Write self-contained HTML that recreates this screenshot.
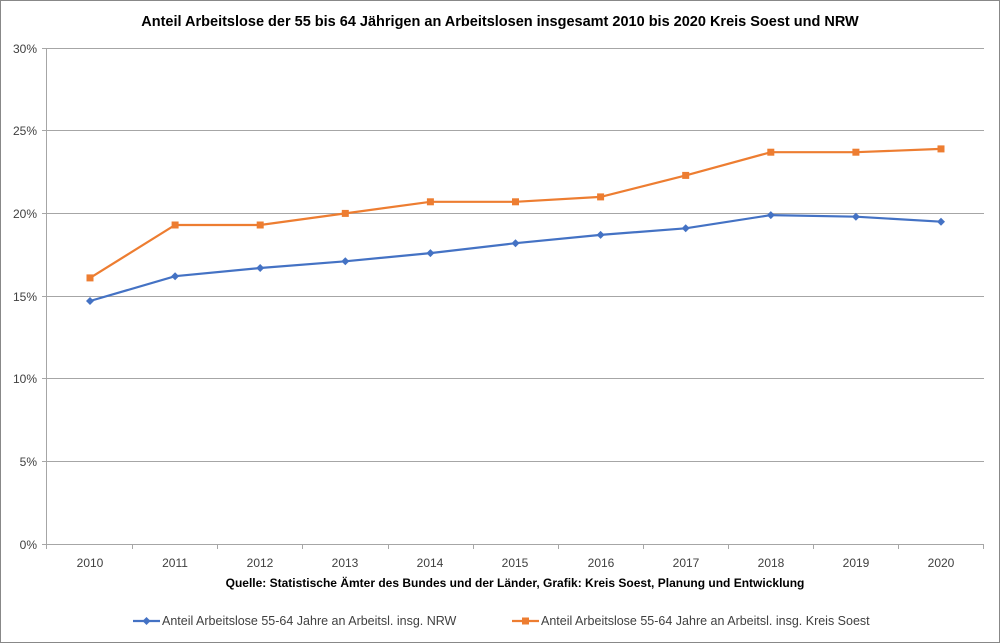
<!DOCTYPE html>
<html><head><meta charset="utf-8"><style>
html,body{margin:0;padding:0;background:#fff}
svg{display:block;font-family:"Liberation Sans",sans-serif}
</style></head><body>
<svg width="1000" height="643" viewBox="0 0 1000 643">
<rect x="0.5" y="0.5" width="999" height="642" fill="#fff" stroke="#888"/>
<text x="500" y="26" text-anchor="middle" font-size="14.5" font-weight="bold" fill="#000">Anteil Arbeitslose der 55 bis 64 Jährigen an Arbeitslosen insgesamt 2010 bis 2020 Kreis Soest und NRW</text>
<g stroke="#a6a6a6" stroke-width="1">
<line x1="47" y1="48.5" x2="984" y2="48.5"/>
<line x1="47" y1="130.5" x2="984" y2="130.5"/>
<line x1="47" y1="213.5" x2="984" y2="213.5"/>
<line x1="47" y1="296.5" x2="984" y2="296.5"/>
<line x1="47" y1="378.5" x2="984" y2="378.5"/>
<line x1="47" y1="461.5" x2="984" y2="461.5"/>
<line x1="46.5" y1="48" x2="46.5" y2="544"/>
<line x1="42" y1="544.5" x2="984" y2="544.5"/>
<line x1="42" y1="48.5" x2="47" y2="48.5"/><line x1="42" y1="130.5" x2="47" y2="130.5"/><line x1="42" y1="213.5" x2="47" y2="213.5"/><line x1="42" y1="296.5" x2="47" y2="296.5"/><line x1="42" y1="378.5" x2="47" y2="378.5"/><line x1="42" y1="461.5" x2="47" y2="461.5"/>
<path d="M132.5 544v5M217.5 544v5M302.5 544v5M388.5 544v5M473.5 544v5M558.5 544v5M643.5 544v5M728.5 544v5M813.5 544v5M898.5 544v5M983.5 544v5M46.5 544v5"/>
</g>
<g font-size="12" fill="#404040" text-anchor="end">
<text x="37" y="53">30%</text><text x="37" y="135">25%</text><text x="37" y="218">20%</text><text x="37" y="301">15%</text><text x="37" y="383">10%</text><text x="37" y="466">5%</text><text x="37" y="549">0%</text>
</g>
<g font-size="12" fill="#404040" text-anchor="middle">
<text x="90" y="567">2010</text><text x="175" y="567">2011</text><text x="260" y="567">2012</text><text x="345" y="567">2013</text><text x="430" y="567">2014</text><text x="515" y="567">2015</text><text x="601" y="567">2016</text><text x="686" y="567">2017</text><text x="771" y="567">2018</text><text x="856" y="567">2019</text><text x="941" y="567">2020</text>
</g>
<text x="515" y="587" text-anchor="middle" font-size="12" font-weight="bold" fill="#000">Quelle: Statistische Ämter des Bundes und der Länder, Grafik: Kreis Soest, Planung und Entwicklung</text>
<polyline fill="none" stroke="#ed7d31" stroke-width="2.2" points="90,277.9 175.1,225 260.2,225 345.3,213.4 430.4,201.8 515.5,201.8 600.6,196.9 685.7,175.4 770.8,152.2 855.9,152.2 941,148.9"/>
<g fill="#ed7d31">
<rect x="86.5" y="274.4" width="7" height="7"/><rect x="171.6" y="221.5" width="7" height="7"/><rect x="256.7" y="221.5" width="7" height="7"/><rect x="341.8" y="209.9" width="7" height="7"/><rect x="426.9" y="198.3" width="7" height="7"/><rect x="512" y="198.3" width="7" height="7"/><rect x="597.1" y="193.4" width="7" height="7"/><rect x="682.2" y="171.9" width="7" height="7"/><rect x="767.3" y="148.7" width="7" height="7"/><rect x="852.4" y="148.7" width="7" height="7"/><rect x="937.5" y="145.4" width="7" height="7"/>
</g>
<polyline fill="none" stroke="#4472c4" stroke-width="2.2" points="90,301 175.1,276.2 260.2,268 345.3,261.3 430.4,253.1 515.5,243.2 600.6,234.9 685.7,228.3 770.8,215.1 855.9,216.7 941,221.7"/>
<g fill="#4472c4">
<path d="M90 297l4 4-4 4-4-4z"/><path d="M175.1 272.2l4 4-4 4-4-4z"/><path d="M260.2 264l4 4-4 4-4-4z"/><path d="M345.3 257.3l4 4-4 4-4-4z"/><path d="M430.4 249.1l4 4-4 4-4-4z"/><path d="M515.5 239.2l4 4-4 4-4-4z"/><path d="M600.6 230.9l4 4-4 4-4-4z"/><path d="M685.7 224.3l4 4-4 4-4-4z"/><path d="M770.8 211.1l4 4-4 4-4-4z"/><path d="M855.9 212.7l4 4-4 4-4-4z"/><path d="M941 217.7l4 4-4 4-4-4z"/>
</g>
<line x1="133" y1="621" x2="160" y2="621" stroke="#4472c4" stroke-width="2.2"/>
<path d="M146.5 617l4 4-4 4-4-4z" fill="#4472c4"/>
<text x="162" y="625" font-size="12.5" fill="#404040">Anteil Arbeitslose 55-64 Jahre an Arbeitsl. insg. NRW</text>
<line x1="512" y1="621" x2="539" y2="621" stroke="#ed7d31" stroke-width="2.2"/>
<rect x="522" y="617.5" width="7" height="7" fill="#ed7d31"/>
<text x="541" y="625" font-size="12.5" fill="#404040">Anteil Arbeitslose 55-64 Jahre an Arbeitsl. insg. Kreis Soest</text>
</svg>
</body></html>
